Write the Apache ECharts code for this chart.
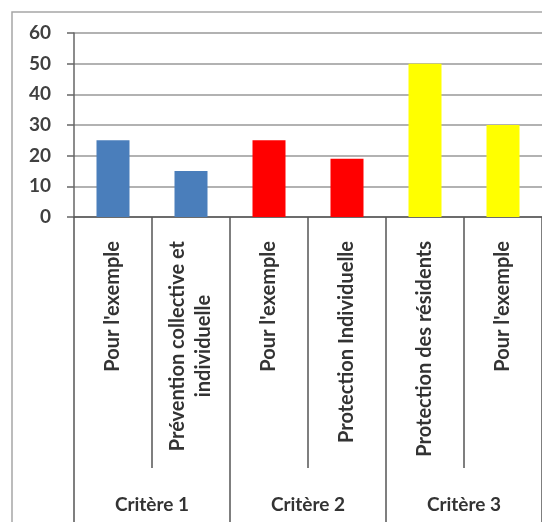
<!DOCTYPE html>
<html>
<head>
<meta charset="utf-8">
<script src="https://cdn.jsdelivr.net/npm/echarts@6/dist/echarts.min.js"></script>
<style>
  html, body { margin: 0; padding: 0; background: #fff; }
  #bar { width: 542px; height: 522px; }
</style>
</head>
<body>
<div id="bar"></div>
<script>
// data
const categories = [
  "Pour l'exemple",
  "Prévention collective et\nindividuelle",
  "Pour l'exemple",
  "Protection Individuelle",
  "Protection des résidents",
  "Pour l'exemple"
];
const values = [25, 15, 25, 19, 50, 30];
const groups = ["Critère 1", "Critère 2", "Critère 3"];
const groupOf = [0, 0, 1, 1, 2, 2];
const yTicks = [0, 10, 20, 30, 40, 50, 60];

const groupColors = ["#4a7ebb", "#ff0000", "#ffff00"];
const font = "Lato";

const chart = echarts.init(document.getElementById("bar"));
chart.setOption({
  animation: false,
  graphic: [
    {
      type: "rect",
      shape: { x: 12, y: 12, width: 620, height: 620 },
      style: { fill: "none", stroke: "#a6a6a6", lineWidth: 1.5 },
      z: 0
    }
  ],
  grid: { left: 74, top: 33, width: 474, height: 184 },
  yAxis: {
    type: "value",
    min: yTicks[0],
    max: yTicks[yTicks.length - 1],
    interval: 10,
    axisLine: { show: true, lineStyle: { color: "#666", width: 1.5 } },
    axisTick: { show: true, length: 7, lineStyle: { color: "#666", width: 1.5 } },
    splitLine: { lineStyle: { color: "#999", width: 1.5 } },
    axisLabel: {
      margin: 23,
      color: "#404040",
      fontFamily: font,
      fontWeight: "bold",
      fontSize: 19
    }
  },
  xAxis: [
    {
      type: "category",
      data: categories,
      axisLine: { lineStyle: { color: "#555", width: 1.5 } },
      axisTick: { show: true, interval: 0, length: 251, lineStyle: { color: "#555", width: 1.5 } },
      axisLabel: {
        interval: 0,
        rotate: 90,
        margin: 24,
        fontFamily: font,
        fontWeight: "bold",
        fontSize: 20,
        color: "#333",
        lineHeight: 26,
        formatter: v => v.split("\n").map(s => "{c|" + s + "}").join("\n"),
        rich: {
          c: {
            align: "center",
            fontFamily: font,
            fontWeight: "bold",
            fontSize: 20,
            color: "#333",
            lineHeight: 26
          }
        }
      }
    },
    {
      type: "category",
      data: groups,
      position: "bottom",
      axisLine: { show: false },
      axisTick: { show: true, interval: 0, length: 320, lineStyle: { color: "#555", width: 1.5 } },
      axisLabel: {
        interval: 0,
        margin: 278,
        fontFamily: font,
        fontWeight: "bold",
        fontSize: 19,
        color: "#333"
      }
    }
  ],
  series: [
    {
      type: "bar",
      xAxisIndex: 0,
      barWidth: 33,
      data: values.map((v, i) => ({
        value: v,
        itemStyle: { color: groupColors[groupOf[i]] }
      }))
    }
  ]
});
</script>
</body>
</html>
